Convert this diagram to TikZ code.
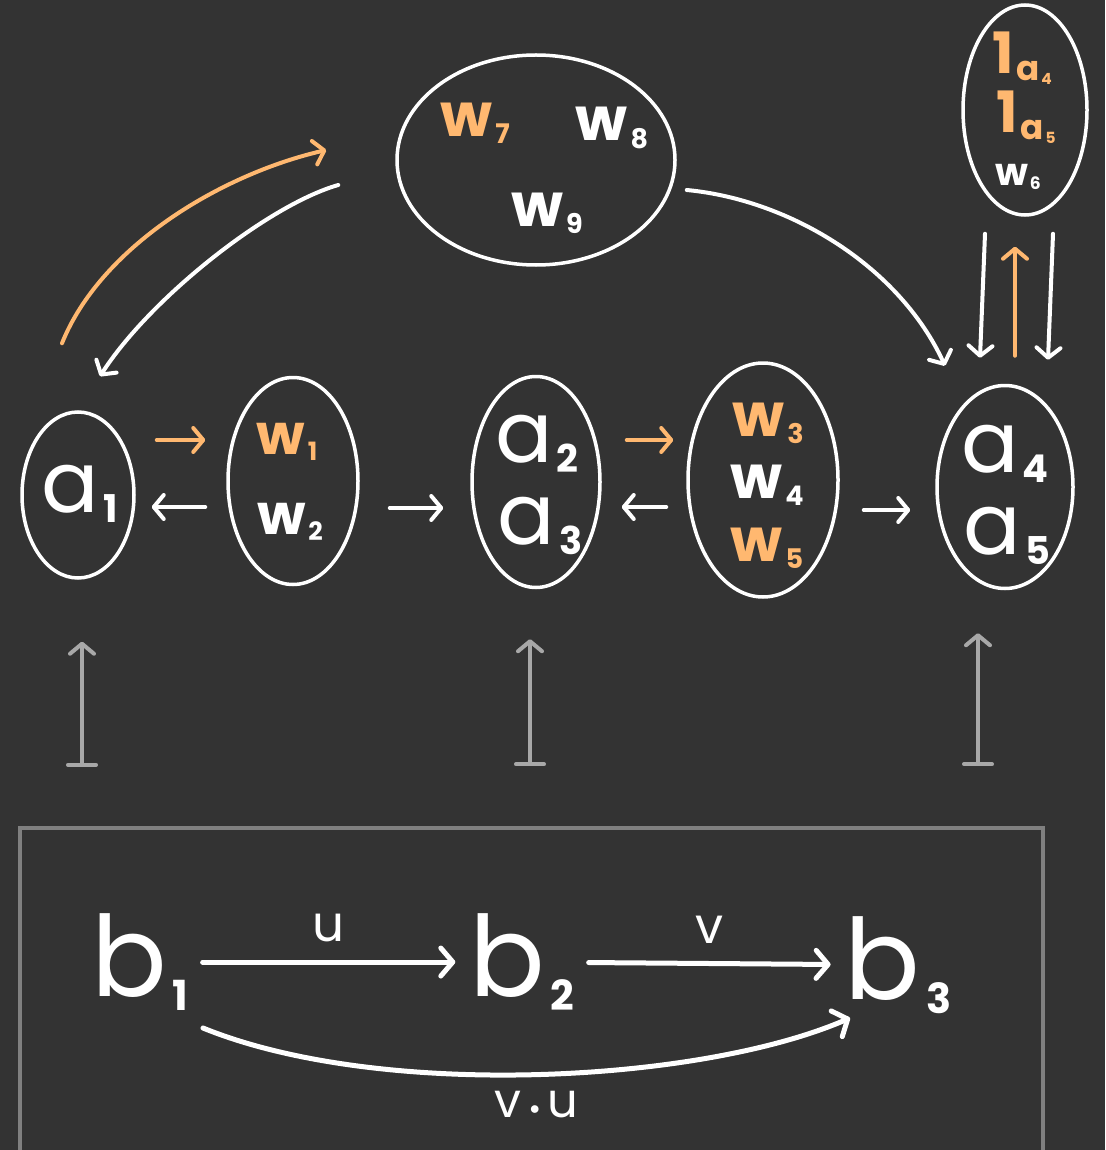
\documentclass[tikz,border=0pt]{standalone}
\usepackage{fontspec}
\setmainfont{Poppins}
\usetikzlibrary{arrows.meta,shapes.geometric,positioning}
\definecolor{bg}{RGB}{51,51,51}
\definecolor{peach}{RGB}{255,184,112}
\definecolor{lgray}{RGB}{168,168,168}
\definecolor{fgray}{RGB}{128,128,128}
\newcommand{\subs}[3][.45]{#2\kern.05em\raisebox{-.12em}{\scalebox{#1}{\bfseries#3}}}
\newcommand{\fs}[1]{\fontsize{#1}{#1}\selectfont}

\begin{document}
\begin{tikzpicture}[x=1pt, y=-1pt,
  blob/.style={draw=white, ellipse, line width=3.5pt, inner sep=0pt},
  txt/.style={text=white, inner sep=0pt},
  wt/.style={txt, font=\fs{60}\bfseries},
  wa/.style={draw=white, line width=4pt, line cap=round, -{Straight Barb[round,length=10pt,width=24pt]}},
  oa/.style={wa, draw=peach},
  ga/.style={draw=lgray, line width=4pt, line cap=round, {Bar[round,width=28pt]}-{Straight Barb[round,length=10pt,width=24pt]}},
  ba/.style={draw=white, line width=5pt, line cap=round, -{Straight Barb[round,length=12pt,width=28pt]}}]
\fill[bg] (0,0) rectangle (1105,1150);
\useasboundingbox (0,0) rectangle (1105,1150);
% blobs
\node[blob, minimum width=112, minimum height=166] (a1) at (78,495) {};
\node[blob, minimum width=130, minimum height=207] (w12) at (293,481) {};
\node[blob, minimum width=128, minimum height=211] (a23) at (536,482) {};
\node[blob, minimum width=150, minimum height=234] (w345) at (763,480) {};
\node[blob, minimum width=136, minimum height=203] (a45) at (1005,487) {};
\node[blob, minimum width=278, minimum height=210] (top) at (536,160) {};
\node[blob, minimum width=124, minimum height=210] (ids) at (1025,110) {};
% contents
\node[txt, font=\fs{85}] (ta1) at (80,494) {\subs{a}{1}};
\node[wt, font=\fs{56}\bfseries, text=peach] (tw1) at (287,442) {\subs{w}{1}};
\node[wt, font=\fs{56}\bfseries] (tw2) at (290,522) {\subs{w}{2}};
\node[txt, font=\fs{85}] (ta2) at (537,444) {\subs{a}{2}};
\node[txt, font=\fs{85}] (ta3) at (540,526) {\subs{a}{3}};
\node[wt, text=peach] (tw3) at (768,423) {\subs{w}{3}};
\node[wt] (tw4) at (767,485) {\subs{w}{4}};
\node[wt, text=peach] (tw5) at (767,548) {\subs{w}{5}};
\node[txt, font=\fs{85}] (ta4) at (1005,454) {\subs{a}{4}};
\node[txt, font=\fs{85}] (ta5) at (1007,536) {\subs{a}{5}};
\node[wt, text=peach] (tw7) at (475,123) {\subs{w}{7}};
\node[wt] (tw8) at (612,128) {\subs{w}{8}};
\node[wt] (tw9) at (547,213) {\subs{w}{9}};
\node[wt, font=\fs{57}\bfseries, text=peach] (id4) at (1022,58) {\subs[.6]{1}{\subs{a}{4}}};
\node[wt, font=\fs{57}\bfseries, text=peach] (id5) at (1026,117) {\subs[.6]{1}{\subs{a}{5}}};
\node[wt, font=\fs{38}\bfseries] (tw6) at (1018,177) {\subs{w}{6}};
% middle row
\draw[oa] ([shift={(21,-55)}]a1.east) -- ([shift={(-21,-41)}]w12.west);
\draw[wa] ([shift={(-21,26)}]w12.west) -- ([shift={(16,12)}]a1.east);
\draw[wa] ([shift={(30,27)}]w12.east) -- ([shift={(-27,26)}]a23.west);
\draw[oa] ([shift={(25,-42)}]a23.east) -- ([shift={(-13,-40)}]w345.west);
\draw[wa] ([shift={(-20,27)}]w345.west) -- ([shift={(20,25)}]a23.east);
\draw[wa] ([shift={(24,30)}]w345.east) -- ([shift={(-25,23)}]a45.west);
% up to the top blob and back
\draw[oa] ([shift={(-16,-67)}]a1.north) .. controls +(38,-95) and +(-108,25) .. ([shift={(-69,-10)}]top.west);
\draw[wa] ([shift={(-57,25)}]top.west) .. controls +(-70,20) and +(50,-78) .. ([shift={(22,-34)}]a1.north);
\draw[wa] ([shift={(10,30)}]top.east) .. controls +(105,10) and +(-45,-98) .. ([shift={(-60,-18)}]a45.north);
\draw[wa] ([shift={(-40,17)}]ids.south) -- ([shift={(-25,-26)}]a45.north);
\draw[oa] ([shift={(10,-28)}]a45.north) -- ([shift={(-10,30)}]ids.south);
\draw[wa] ([shift={(28,17)}]ids.south) -- ([shift={(43,-24)}]a45.north);
% functor arrows
\draw[ga] ([shift={(4,187)}]a1.south) -- ([shift={(4,62)}]a1.south);
\draw[ga] ([shift={(-6,177)}]a23.south) -- ([shift={(-6,50)}]a23.south);
\draw[ga] ([shift={(-27,176)}]a45.south) -- ([shift={(-27,43)}]a45.south);
% base category
\draw[fgray, line width=4pt] (20,1170) -- (20,828) -- (1043,828) -- (1043,1170);
\node[txt, font=\fs{112}, inner xsep=14pt] (b1) at (140,962) {\subs[.37]{b}{1}};
\node[txt, font=\fs{112}, inner xsep=14pt] (b2) at (522,962) {\subs[.37]{b}{2}};
\node[txt, font=\fs{112}, inner xsep=14pt] (b3) at (898,965) {\subs[.37]{b}{3}};
\draw[ba] (b1) -- node[txt, font=\fs{50}, above=18pt] (lu) {u} (b2);
\draw[ba] (b2) -- node[txt, font=\fs{50}, above=18pt] (lv) {v} (b3);
\draw[ba] ([shift={(63,66)}]b1.center) .. controls +(177,72) and +(-150,65) .. node[txt, font=\fs{48}, below=14pt] (lvu) {v\,\raisebox{.06em}{\scalebox{.8}{$\bullet$}}\,u} ([shift={(-48,53)}]b3.center);
\end{tikzpicture}
\end{document}
